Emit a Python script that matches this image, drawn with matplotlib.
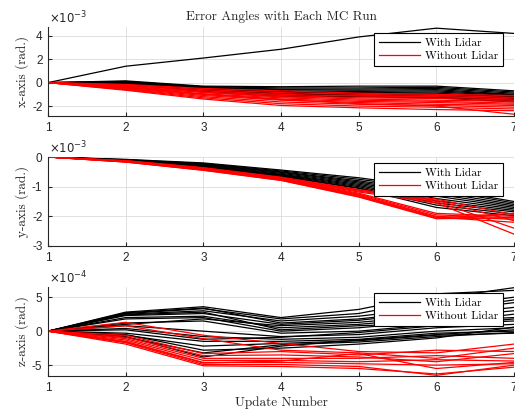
import matplotlib
matplotlib.use('Agg')
import matplotlib.pyplot as plt

plt.rcParams['axes.unicode_minus'] = False
plt.rcParams['font.family'] = 'Liberation Sans'

update_number = [1, 2, 3, 4, 5, 6, 7]

# x-axis error (units of 1e-3 rad)
x_with_lidar = [
    [0, 0.15, -0.30, -0.35, -0.30, -0.30, -0.70],
    [0, 0.10, -0.35, -0.45, -0.45, -0.40, -0.80],
    [0, 0.05, -0.40, -0.55, -0.55, -0.50, -0.90],
    [0, 0.00, -0.45, -0.60, -0.65, -0.60, -1.00],
    [0, -0.05, -0.50, -0.70, -0.75, -0.70, -1.05],
    [0, -0.05, -0.55, -0.75, -0.85, -0.80, -1.10],
    [0, -0.10, -0.60, -0.85, -0.90, -0.90, -1.20],
    [0, -0.10, -0.65, -0.90, -1.00, -1.00, -1.25],
    [0, -0.15, -0.70, -1.00, -1.05, -1.10, -1.35],
    [0, 0.05, -0.55, -0.80, -0.95, -1.20, -1.45],
    [0, -0.10, -0.75, -1.10, -1.15, -1.25, -1.55],
    [0, 0.00, -0.80, -1.20, -1.20, -1.30, -1.65],
    [0, 1.40, 2.10, 2.85, 3.90, 4.65, 4.20],
]
x_without_lidar = [
    [0, -0.15, -0.50, -0.70, -0.90, -1.00, -1.10],
    [0, -0.20, -0.60, -0.85, -1.00, -1.10, -1.25],
    [0, -0.25, -0.70, -1.00, -1.15, -1.20, -1.40],
    [0, -0.30, -0.80, -1.10, -1.30, -1.35, -1.50],
    [0, -0.35, -0.85, -1.20, -1.40, -1.50, -1.60],
    [0, -0.40, -0.95, -1.30, -1.50, -1.60, -1.75],
    [0, -0.45, -1.00, -1.40, -1.60, -1.70, -1.85],
    [0, -0.50, -1.10, -1.50, -1.70, -1.85, -1.95],
    [0, -0.55, -1.20, -1.65, -1.85, -1.95, -2.10],
    [0, -0.60, -1.30, -1.80, -2.00, -2.10, -2.25],
    [0, -0.65, -1.40, -1.95, -2.15, -2.30, -2.40],
    [0, -0.40, -1.00, -1.45, -1.80, -2.00, -2.70],
]

# y-axis error (units of 1e-3 rad)
y_with_lidar = [
    [0, -0.08, -0.20, -0.44, -0.70, -1.05, -1.50],
    [0, -0.09, -0.22, -0.47, -0.75, -1.10, -1.55],
    [0, -0.10, -0.24, -0.50, -0.80, -1.18, -1.60],
    [0, -0.10, -0.26, -0.52, -0.84, -1.25, -1.65],
    [0, -0.11, -0.28, -0.55, -0.88, -1.32, -1.70],
    [0, -0.12, -0.30, -0.58, -0.92, -1.40, -1.75],
    [0, -0.12, -0.32, -0.60, -0.96, -1.48, -1.80],
    [0, -0.13, -0.33, -0.62, -1.00, -1.55, -1.85],
    [0, -0.14, -0.35, -0.64, -1.04, -1.62, -1.92],
    [0, -0.14, -0.36, -0.66, -1.06, -1.70, -1.98],
]
y_without_lidar = [
    [0, -0.12, -0.36, -0.68, -1.10, -1.42, -1.95],
    [0, -0.13, -0.37, -0.70, -1.12, -1.46, -2.15],
    [0, -0.14, -0.38, -0.72, -1.15, -1.50, -2.40],
    [0, -0.14, -0.39, -0.73, -1.18, -1.55, -2.60],
    [0, -0.15, -0.40, -0.74, -1.22, -1.90, -2.00],
    [0, -0.15, -0.41, -0.75, -1.25, -1.95, -2.05],
    [0, -0.16, -0.42, -0.76, -1.28, -2.00, -2.10],
    [0, -0.16, -0.43, -0.77, -1.30, -2.03, -2.20],
    [0, -0.17, -0.44, -0.78, -1.33, -2.06, -1.90],
    [0, -0.17, -0.45, -0.79, -1.35, -2.08, -2.05],
]

# z-axis error (units of 1e-4 rad)
z_with_lidar = [
    [0, 2.8, 3.6, 2.0, 3.2, 5.5, 6.0],
    [0, 2.6, 3.3, 1.8, 2.6, 4.8, 6.4],
    [0, 2.7, 3.4, 1.2, 1.8, 3.0, 4.6],
    [0, 2.5, 3.0, 1.5, 2.2, 3.5, 5.0],
    [0, 2.3, 2.6, 1.0, 1.6, 2.8, 4.2],
    [0, 2.4, 2.8, 0.2, 0.8, 1.2, 2.5],
    [0, 2.0, 2.2, 0.5, 1.0, 2.0, 3.0],
    [0, 1.8, 2.0, 0.0, 0.5, 1.5, 2.0],
    [0, 1.2, 1.5, -0.3, 0.0, 1.0, 1.5],
    [0, 0.8, 0.0, -0.8, -0.5, 0.5, 1.0],
    [0, 0.2, -1.2, -0.9, -0.2, 0.8, 1.8],
    [0, 0.4, -0.8, -1.2, -0.9, 0.0, 0.5],
    [0, -0.3, -1.5, -1.5, -1.2, -0.3, 0.0],
    [0, -0.6, -2.2, -1.8, -1.4, -0.6, -0.3],
    [0, -0.5, -2.8, -2.5, -1.9, -1.0, 0.6],
    [0, -0.9, -3.2, -2.0, -1.6, -0.8, -0.2],
    [0, -0.8, -3.8, -2.2, -1.3, -0.5, 0.2],
    [0, 1.0, 1.8, 0.8, 1.3, 2.3, 3.5],
]
z_without_lidar = [
    [0, 1.3, -0.6, -1.8, -3.0, -3.2, -1.9],
    [0, 0.8, -1.1, -2.8, -3.2, -4.0, -2.5],
    [0, -0.6, -3.3, -3.0, -3.5, -2.8, -3.0],
    [0, -0.9, -3.6, -3.5, -3.8, -4.5, -3.3],
    [0, -1.1, -4.0, -4.0, -4.0, -3.6, -4.0],
    [0, -1.3, -4.3, -4.3, -4.5, -4.2, -4.4],
    [0, -1.5, -4.6, -4.6, -4.8, -5.0, -4.8],
    [0, -1.7, -4.9, -4.9, -5.2, -6.5, -5.0],
    [0, -1.9, -5.1, -5.2, -5.5, -6.3, -5.3],
    [0, -1.6, -4.7, -4.4, -3.3, -5.5, -4.6],
]

panels = [
    (x_with_lidar, x_without_lidar, 'x-axis (rad.)', r'$\times10^{-3}$', (-2.85, 4.75), [-2, 0, 2, 4]),
    (y_with_lidar, y_without_lidar, 'y-axis (rad.)', r'$\times10^{-3}$', (-3, 0), [-3, -2, -1, 0]),
    (z_with_lidar, z_without_lidar, 'z-axis (rad.)', r'$\times10^{-4}$', (-6.6, 6.5), [-5, 0, 5]),
]
tops = [27, 157, 287]

serif = 'cmr10'
axis_col = '#262626'

fig = plt.figure(figsize=(5.15, 4.09), dpi=100)
for (runs_w, runs_wo, ylab, mult, ylim, yticks), top in zip(panels, tops):
    ax = fig.add_axes([48 / 515, 1 - (top + 89) / 409, 466 / 515, 89 / 409])
    for k, run in enumerate(runs_w):
        ax.plot(update_number, run, color='k', lw=0.9,
                label='With Lidar' if k == 0 else None)
    for k, run in enumerate(runs_wo):
        ax.plot(update_number, run, color='r', lw=0.9,
                label='Without Lidar' if k == 0 else None)
    ax.set_xlim(1, 7)
    ax.set_ylim(*ylim)
    ax.set_yticks(yticks)
    ax.set_xticks(update_number)
    ax.grid(True, color='#dcdcdc', lw=0.6)
    ax.set_axisbelow(True)
    for s in ['top', 'right']:
        ax.spines[s].set_visible(False)
    for s in ['left', 'bottom']:
        ax.spines[s].set_color(axis_col)
        ax.spines[s].set_linewidth(0.8)
    ax.tick_params(direction='in', length=3, width=0.8, colors=axis_col,
                   labelsize=8.5, pad=4)
    ax.set_ylabel(ylab, family=serif, fontsize=9.5, color=axis_col, labelpad=2)
    ax.text(0.003, 1.01, mult, transform=ax.transAxes, ha='left', va='bottom',
            fontsize=8.5, color=axis_col)
    leg = ax.legend(loc='upper right', prop={'family': serif, 'size': 8.3},
                    fancybox=False, framealpha=1, edgecolor='k', handlelength=3.6,
                    handletextpad=0.35, borderaxespad=0, borderpad=0.45,
                    labelspacing=0.25, bbox_to_anchor=(0.976, 0.933))
    leg.get_frame().set_linewidth(0.8)
    if top == 27:
        ax.set_title('Error Angles with Each MC Run', family=serif, fontsize=9.5,
                     color=axis_col, pad=5)
    if top == 287:
        ax.set_xlabel('Update Number', family=serif, fontsize=9.5, color=axis_col,
                      labelpad=2)

fig.savefig('out.png', dpi=100)
